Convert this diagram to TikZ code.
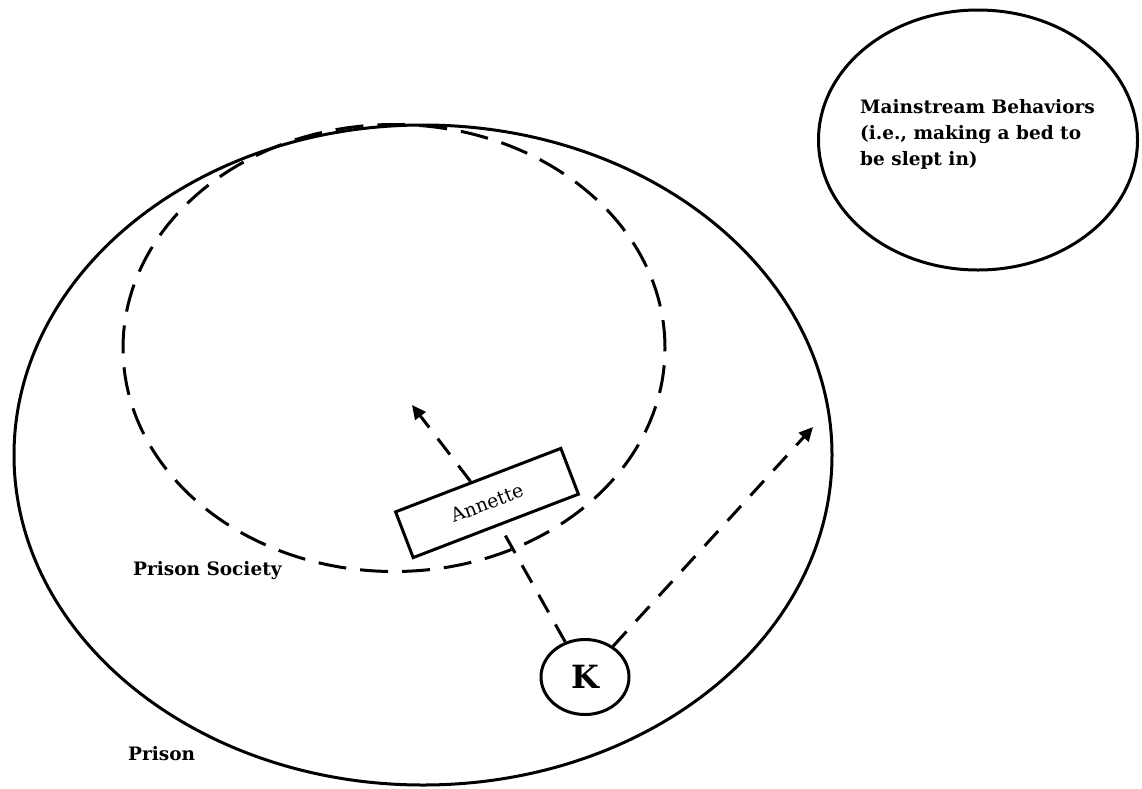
\documentclass[tikz,border=0pt]{standalone}
\usepackage{fontspec}
\setmainfont{DejaVu Serif}
\usetikzlibrary{shapes.geometric,arrows.meta}
\tikzset{
  circ/.style={draw,ellipse,line width=3pt,inner sep=0pt},
  dcirc/.style={circ,dash pattern=on 28pt off 14pt},
  dline/.style={line width=3pt,dash pattern=on 20pt off 14pt},
  arr/.style={dline,-{Triangle[length=14pt,width=13pt]}},
  lbl/.style={font=\bfseries\fontsize{18.5}{22}\selectfont,inner sep=0pt}
}
\begin{document}
\begin{tikzpicture}[x=1pt,y=-1pt]
\useasboundingbox (0,0) rectangle (1142,788);
\node[circ,minimum width=818pt,minimum height=660pt] (prison) at (423,455) {};
\node[dcirc,minimum width=542pt,minimum height=447pt] (society) at (394,348) {};
\node[circ,minimum width=319pt,minimum height=260pt] (mainstream) at (978,140) {};
\node[lbl,align=left,anchor=base west,font=\bfseries\fontsize{18.5}{26}\selectfont] (mstext) at (860,165) {Mainstream Behaviors\\(i.e., making a bed to\\be slept in)};
\node[draw,line width=3pt,rotate=21,minimum width=177pt,minimum height=49pt,inner sep=0pt,fill=white,font=\fontsize{19}{21}\selectfont] (annette) at (487,503) {Annette};
\node[circ,minimum width=88pt,minimum height=75pt,fill=white,font=\bfseries\fontsize{32}{34}\selectfont] (K) at (585,677) {K};
\coordinate (tip1) at (412,405);
\coordinate (tip2) at (813,427);
\draw[dline] (K) -- (annette);
\draw[arr] (annette) -- (tip1);
\draw[arr] (K) -- (tip2);
\node[lbl,anchor=base west] (pslabel) at (133,575) {Prison Society};
\node[lbl,anchor=base west] (plabel) at (128,760) {Prison};
\end{tikzpicture}
\end{document}
